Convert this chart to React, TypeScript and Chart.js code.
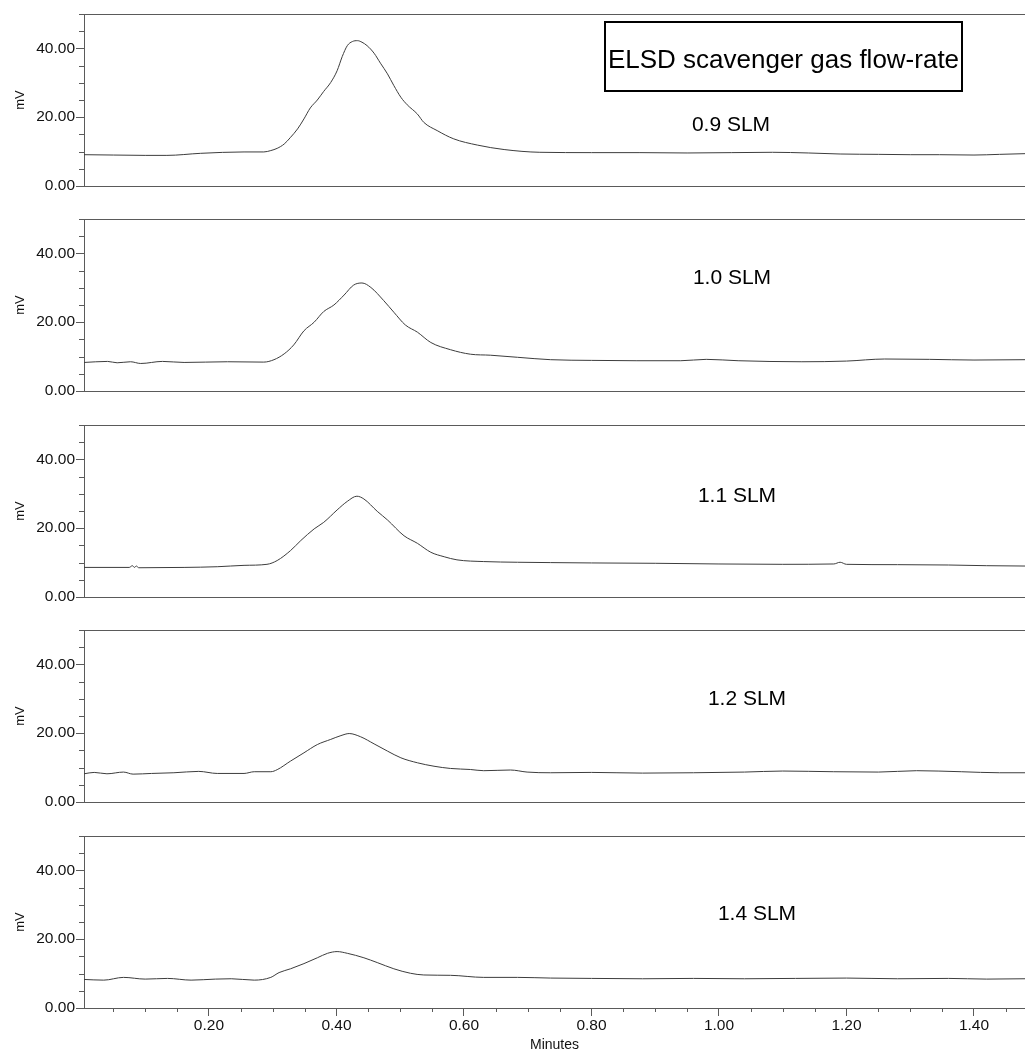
import React, { useEffect, useRef } from "react";
import { Chart, registerables } from "chart.js";

Chart.register(...registerables);

// ---------- DATA (minutes, mV) ----------
const time09 = [0.004, 0.05, 0.10, 0.134, 0.187, 0.255, 0.286, 0.297, 0.307, 0.318, 0.328, 0.339, 0.349, 0.359, 0.370, 0.380, 0.391, 0.401, 0.409, 0.417, 0.425, 0.433, 0.440, 0.448, 0.459, 0.469, 0.480, 0.490, 0.501, 0.511, 0.527, 0.537, 0.558, 0.584, 0.621, 0.663, 0.719, 0.80, 0.876, 0.95, 1.02, 1.084, 1.14, 1.19, 1.25, 1.30, 1.346, 1.40, 1.44, 1.48];
const mv09 = [9.1, 9.0, 8.9, 8.9, 9.5, 9.9, 9.9, 10.3, 10.95, 12.2, 14.15, 16.6, 19.5, 22.7, 25.0, 27.5, 30.1, 33.5, 37.6, 40.8, 42.0, 42.25, 41.8, 40.8, 38.6, 35.7, 32.6, 29.2, 25.8, 23.6, 20.9, 18.5, 16.1, 13.7, 11.9, 10.6, 9.8, 9.7, 9.7, 9.6, 9.7, 9.8, 9.6, 9.3, 9.2, 9.1, 9.1, 9.0, 9.2, 9.4];

const time10 = [0.004, 0.041, 0.056, 0.077, 0.093, 0.127, 0.161, 0.229, 0.286, 0.302, 0.318, 0.333, 0.349, 0.365, 0.380, 0.396, 0.412, 0.427, 0.440, 0.454, 0.474, 0.490, 0.508, 0.527, 0.548, 0.579, 0.610, 0.642, 0.684, 0.736, 0.80, 0.87, 0.94, 0.98, 1.03, 1.13, 1.20, 1.26, 1.33, 1.40, 1.48];
const mv10 = [8.3, 8.6, 8.2, 8.5, 8.0, 8.6, 8.3, 8.5, 8.4, 9.1, 10.8, 13.4, 17.5, 20.0, 23.1, 25.0, 27.9, 30.8, 31.4, 30.1, 26.3, 22.9, 19.2, 17.1, 14.1, 12.0, 10.7, 10.4, 9.8, 9.1, 8.9, 8.8, 8.8, 9.2, 8.8, 8.5, 8.7, 9.3, 9.2, 9.0, 9.1];

const time11 = [0.004, 0.075, 0.080, 0.083, 0.086, 0.090, 0.161, 0.213, 0.255, 0.291, 0.307, 0.328, 0.344, 0.365, 0.380, 0.401, 0.417, 0.432, 0.443, 0.464, 0.480, 0.506, 0.527, 0.548, 0.569, 0.589, 0.631, 0.684, 0.736, 0.80, 0.90, 1.00, 1.10, 1.18, 1.19, 1.20, 1.28, 1.36, 1.42, 1.48];
const mv11 = [8.6, 8.6, 9.1, 8.6, 9.0, 8.5, 8.6, 8.8, 9.2, 9.5, 10.6, 13.5, 16.4, 19.8, 21.7, 25.3, 27.8, 29.3, 28.5, 24.9, 22.4, 17.8, 15.6, 13.0, 11.7, 10.8, 10.3, 10.1, 10.0, 9.9, 9.8, 9.6, 9.5, 9.6, 10.1, 9.5, 9.4, 9.3, 9.1, 9.0];

const time12 = [0.004, 0.02, 0.04, 0.066, 0.081, 0.11, 0.145, 0.184, 0.213, 0.255, 0.271, 0.297, 0.307, 0.328, 0.349, 0.370, 0.391, 0.407, 0.420, 0.438, 0.459, 0.480, 0.501, 0.527, 0.553, 0.579, 0.610, 0.631, 0.673, 0.699, 0.736, 0.80, 0.88, 0.96, 1.04, 1.10, 1.18, 1.25, 1.31, 1.38, 1.44, 1.48];
const mv12 = [8.2, 8.6, 8.2, 8.7, 8.1, 8.3, 8.5, 8.9, 8.3, 8.3, 8.8, 8.8, 9.4, 11.9, 14.3, 16.7, 18.2, 19.3, 19.9, 18.95, 16.9, 14.8, 12.85, 11.4, 10.4, 9.75, 9.45, 9.1, 9.3, 8.7, 8.5, 8.6, 8.4, 8.5, 8.7, 9.0, 8.8, 8.7, 9.1, 8.8, 8.5, 8.5];

const time14 = [0.004, 0.035, 0.066, 0.10, 0.135, 0.172, 0.21, 0.235, 0.271, 0.297, 0.310, 0.328, 0.349, 0.370, 0.386, 0.401, 0.417, 0.443, 0.464, 0.490, 0.516, 0.537, 0.579, 0.631, 0.684, 0.736, 0.80, 0.88, 0.96, 1.04, 1.12, 1.20, 1.28, 1.36, 1.42, 1.48];
const mv14 = [8.3, 8.1, 8.9, 8.4, 8.6, 8.1, 8.4, 8.5, 8.1, 8.9, 10.3, 11.4, 12.9, 14.6, 15.9, 16.4, 15.9, 14.6, 13.2, 11.4, 10.1, 9.6, 9.5, 8.9, 8.9, 8.7, 8.6, 8.5, 8.6, 8.5, 8.6, 8.7, 8.5, 8.6, 8.4, 8.5];

const panelTimes = [time09, time10, time11, time12, time14];
const panelValues = [mv09, mv10, mv11, mv12, mv14];
const panelLabels = ["0.9 SLM", "1.0 SLM", "1.1 SLM", "1.2 SLM", "1.4 SLM"];

const xTickValues = [0.2, 0.4, 0.6, 0.8, 1.0, 1.2, 1.4];
const xMinorTickValues = [0.05, 0.1, 0.15, 0.25, 0.3, 0.35, 0.45, 0.5, 0.55, 0.65, 0.7, 0.75, 0.85, 0.9, 0.95, 1.05, 1.1, 1.15, 1.25, 1.3, 1.35, 1.45];
const yTickValues = [0, 20, 40];
const yMinorTickValues = [5, 10, 15, 25, 30, 35, 45];
const X_MIN = 0.004;
const X_MAX = 1.48;
const Y_MIN = 0;
const Y_MAX = 50;
const boxTitle = "ELSD scavenger gas flow-rate";
const xAxisTitle = "Minutes";
const yAxisTitle = "mV";

// ---------- LAYOUT / STYLE ----------
const FONT = '"Liberation Sans", Arial, sans-serif';
const AXIS_COLOR = "#5a5a5a";
const LINE_COLOR = "#3c3c3c";
const TEXT_COLOR = "#111";
const PANEL_TOPS = [14, 219, 425, 630, 836];
const PANEL_H = 172;
const PAD_TOP = 12;
const X_AXIS_H_TOP = 12;
const X_AXIS_H_LAST = 46;
const Y_AXIS_W = 84;
const LABEL_POS = [
  { x: 731, y: 123 },
  { x: 732, y: 276 },
  { x: 737, y: 494 },
  { x: 747, y: 697 },
  { x: 757, y: 912 },
];

function Panel({ index }: { index: number }) {
  const ref = useRef<HTMLCanvasElement | null>(null);
  const isLast = index === panelTimes.length - 1;
  const h = PAD_TOP + PANEL_H + (isLast ? X_AXIS_H_LAST : X_AXIS_H_TOP);

  useEffect(() => {
    if (!ref.current) return;
    const times = panelTimes[index];
    const vals = panelValues[index];

    const axisDecor = {
      id: "axisDecor",
      afterDraw(chart: any) {
        const { ctx, chartArea, scales } = chart;
        ctx.save();
        ctx.strokeStyle = AXIS_COLOR;
        ctx.lineWidth = 1;
        ctx.beginPath();
        yMinorTickValues.forEach((v) => {
          const py = Math.round(scales.y.getPixelForValue(v)) + 0.5;
          ctx.moveTo(chartArea.left - 5, py);
          ctx.lineTo(chartArea.left, py);
        });
        const pTop = Math.round(scales.y.getPixelForValue(Y_MAX)) + 0.5;
        ctx.moveTo(chartArea.left - 5, pTop);
        ctx.lineTo(chartArea.right, pTop);
        if (isLast) {
          xMinorTickValues.forEach((v) => {
            const px = Math.round(scales.x.getPixelForValue(v)) + 0.5;
            ctx.moveTo(px, chartArea.bottom);
            ctx.lineTo(px, chartArea.bottom + 4);
          });
        }
        ctx.stroke();
        ctx.restore();
      },
    };

    const chart = new Chart(ref.current, {
      type: "line",
      data: {
        datasets: [
          {
            data: times.map((t, i) => ({ x: t, y: vals[i] })),
            borderColor: LINE_COLOR,
            borderWidth: 1,
            pointRadius: 0,
            fill: false,
            cubicInterpolationMode: "monotone",
          },
        ],
      },
      options: {
        animation: false,
        responsive: false,
        maintainAspectRatio: false,
        layout: { padding: { top: PAD_TOP, left: 0, right: 0, bottom: 0 } },
        plugins: { legend: { display: false }, tooltip: { enabled: false } },
        scales: {
          x: {
            type: "linear",
            min: X_MIN,
            max: X_MAX,
            afterBuildTicks: (s: any) => {
              s.ticks = xTickValues.map((v) => ({ value: v }));
            },
            afterFit: (s: any) => {
              s.height = isLast ? X_AXIS_H_LAST : X_AXIS_H_TOP;
            },
            ticks: {
              display: isLast,
              autoSkip: false,
              maxRotation: 0,
              padding: 0,
              color: TEXT_COLOR,
              font: { family: FONT, size: 15.5 },
              callback: (v: any) => Number(v).toFixed(2),
            },
            grid: {
              display: true,
              drawOnChartArea: false,
              drawTicks: isLast,
              tickLength: 8,
              color: AXIS_COLOR,
            },
            border: { display: true, color: AXIS_COLOR, width: 1 },
            title: {
              display: isLast,
              text: xAxisTitle,
              color: TEXT_COLOR,
              font: { family: FONT, size: 14 },
              padding: { top: 0, bottom: 0 },
            },
          },
          y: {
            type: "linear",
            min: Y_MIN,
            max: Y_MAX,
            afterBuildTicks: (s: any) => {
              s.ticks = yTickValues.map((v) => ({ value: v }));
            },
            afterFit: (s: any) => {
              s.width = Y_AXIS_W;
            },
            ticks: {
              padding: 1,
              color: TEXT_COLOR,
              font: { family: FONT, size: 15.5 },
              callback: (v: any) => Number(v).toFixed(2),
            },
            grid: {
              display: true,
              drawOnChartArea: false,
              drawTicks: true,
              tickLength: 8,
              color: AXIS_COLOR,
            },
            border: { display: true, color: AXIS_COLOR, width: 1 },
            title: {
              display: true,
              text: yAxisTitle,
              color: TEXT_COLOR,
              font: { family: FONT, size: 13 },
              padding: { top: 13, bottom: 0 },
            },
          },
        },
      },
      plugins: [axisDecor],
    } as any);
    return () => chart.destroy();
  }, [index]);

  return (
    <canvas
      ref={ref}
      width={1025}
      height={h}
      style={{ position: "absolute", left: 0, top: PANEL_TOPS[index] - PAD_TOP, width: 1025, height: h }}
    />
  );
}

function TextAt({ text, cx, cy, size }: { text: string; cx: number; cy: number; size: number }) {
  return (
    <div
      style={{
        position: "absolute",
        left: cx,
        top: cy - 0.4885 * size,
        transform: "translateX(-50%)",
        fontFamily: FONT,
        fontSize: size,
        lineHeight: `${size}px`,
        color: "#000",
        whiteSpace: "nowrap",
      }}
    >
      {text}
    </div>
  );
}

export default function App() {
  return (
    <div
      style={{
        position: "absolute",
        left: 0,
        top: 0,
        width: 1025,
        height: 1054,
        overflow: "hidden",
        background: "#fff",
      }}
    >
      {panelTimes.map((_, i) => (
        <Panel key={i} index={i} />
      ))}
      {panelLabels.map((lbl, i) => (
        <TextAt key={lbl} text={lbl} cx={LABEL_POS[i].x} cy={LABEL_POS[i].y} size={21} />
      ))}
      <div
        style={{
          position: "absolute",
          left: 604,
          top: 21,
          width: 359,
          height: 71,
          border: "2px solid #000",
          boxSizing: "border-box",
        }}
      />
      <TextAt text={boxTitle} cx={783.5} cy={58.3} size={26} />
    </div>
  );
}
